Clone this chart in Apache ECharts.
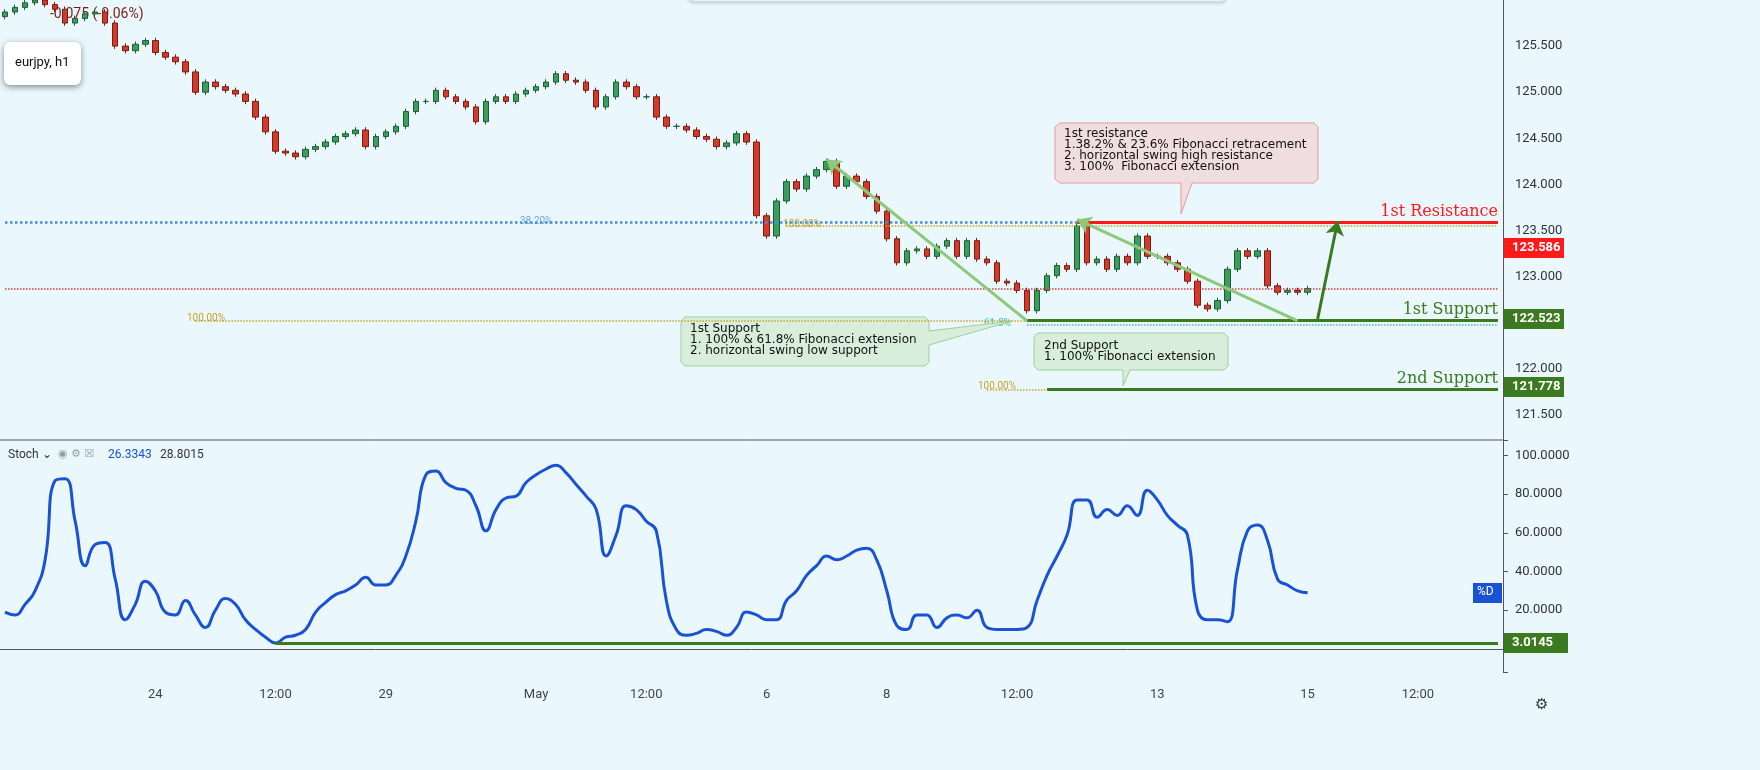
<!DOCTYPE html>
<html>
<head>
<meta charset="utf-8">
<script src="https://cdn.jsdelivr.net/npm/echarts@6/dist/echarts.min.js"></script>
<style>
  html, body {margin: 0; padding: 0; background: #eaf8fe;}
  #chart {width: 1760px; height: 770px;}
</style>
</head>
<body>
<div id="chart"></div>
<script>
// hourly-ish closes (2h per slot), eurjpy
const closes = [
  125.87, 125.92, 125.97, 126.0, 125.95, 125.9, 125.75, 125.8, 125.85, 125.87,
  125.75, 125.5, 125.45, 125.52, 125.56, 125.43, 125.38, 125.33, 125.22, 125.0,
  125.11, 125.06, 125.02, 124.98, 124.9, 124.73, 124.57, 124.36, 124.34, 124.3,
  124.38, 124.41, 124.46, 124.52, 124.55, 124.59, 124.41, 124.52, 124.57, 124.63,
  124.79, 124.9, 124.9, 125.02, 124.95, 124.9, 124.84, 124.68, 124.9, 124.95,
  124.9, 124.98, 125.02, 125.06, 125.11, 125.2, 125.13, 125.11, 125.02, 124.84,
  124.95, 125.11, 125.06, 124.95, 124.95, 124.73, 124.63, 124.63, 124.59, 124.52,
  124.49, 124.41, 124.45, 124.55, 124.46, 123.66, 123.44, 123.82, 124.03, 123.95,
  124.09, 124.16, 124.25, 123.98, 124.09, 124.03, 123.87, 123.71, 123.41, 123.15,
  123.28, 123.3, 123.22, 123.33, 123.39, 123.22, 123.39, 123.19, 123.15, 122.95,
  122.93, 122.85, 122.63, 122.85, 123.01, 123.12, 123.08, 123.55, 123.15, 123.19,
  123.08, 123.22, 123.15, 123.44, 123.22, 123.22, 123.15, 123.08, 122.95, 122.69,
  122.65, 122.74, 123.08, 123.28, 123.22, 123.28, 122.9, 122.83, 122.85, 122.83,
  122.87
];
const firstOpen = 125.82;

const stoch = [
  19, 17.5, 23, 30, 46, 87, 88, 66, 43, 54,
  55, 36, 15, 23, 35, 30, 19, 17.5, 25, 17.5,
  11, 20, 26, 23, 15, 10, 6, 3, 6, 7,
  10, 19, 24, 28, 30, 33, 37, 33, 33, 38,
  48, 66, 90, 92, 86, 83, 82, 74, 61, 72,
  78, 79, 86, 90, 93, 95, 91, 85, 79, 72,
  48, 59, 74, 72, 66, 61, 25, 10, 7, 8,
  10, 9, 7, 11, 19, 17.5, 15, 15, 25, 30,
  38, 43, 48, 46, 48, 51, 52, 46, 30, 12,
  10, 17.5, 17.5, 11, 16, 17.5, 16, 20, 11, 10,
  10, 10, 11, 25, 38, 48, 59, 77, 77, 68,
  72, 69, 74, 69, 82, 77, 69, 64, 59, 20,
  15, 15, 14, 41, 61, 64, 56, 36, 33, 30,
  29
];

const slotCount = 150;
const tickIdx = [15, 27, 38, 53, 64, 76, 88, 101, 115, 130, 141];
const tickLabels = ['24', '12:00', '29', 'May', '12:00', '6', '8', '12:00', '13', '15', '12:00'];

const resistance = 123.586;
const support1 = 122.523;
const support2 = 121.778;
const stochLow = 3.0145;

const categories = [];
for (let i = 0; i < slotCount; i++) {
  const k = tickIdx.indexOf(i);
  categories.push(k >= 0 ? tickLabels[k] : '');
}

const candles = closes.map((c, i) => {
  const o = i === 0 ? firstOpen : closes[i - 1];
  return [o, c, Math.min(o, c) - 0.03, Math.max(o, c) + 0.03];
});

const chart = echarts.init(document.getElementById('chart'));

const dot = (color) => ({color: color, type: 'dotted', width: 1.5});

const option = {
  backgroundColor: '#eaf8fe',
  animation: false,
  grid: [
    {left: 0, right: 257, top: -2, height: 463},
    {left: 0, right: 257, top: 440, height: 232}
  ],
  xAxis: [
    {type: 'category', data: categories, gridIndex: 0, axisLine: {show: false},
      axisTick: {show: false}, axisLabel: {show: false}, splitLine: {show: false}},
    {type: 'category', data: categories, gridIndex: 1,
      axisLine: {lineStyle: {color: '#555'}}, axisTick: {show: false},
      axisLabel: {interval: 0, color: '#444', fontSize: 13, margin: 16, fontFamily: 'Roboto'},
      splitLine: {show: false}}
  ],
  yAxis: [
    {type: 'value', gridIndex: 0, position: 'right', min: 121.0, max: 126.0, interval: 0.5,
      axisLine: {show: false}, axisTick: {show: false},
      axisLabel: {color: '#333', fontSize: 13, fontFamily: 'Roboto', margin: 12,
        formatter: v => (v > 121.2 && v < 125.9) ? v.toFixed(3) : ''},
      splitLine: {show: false}},
    {type: 'value', gridIndex: 1, position: 'right', min: -12, max: 108,
      axisLine: {show: true, lineStyle: {color: '#555'}}, axisTick: {show: true, length: 5},
      axisLabel: {color: '#333', fontSize: 13, fontFamily: 'Roboto', margin: 12,
        formatter: v => (v >= 20 && v <= 100 && v % 20 === 0) ? v.toFixed(4) : ''},
      splitLine: {show: false}}
  ],
  series: [
    {
      type: 'candlestick', xAxisIndex: 0, yAxisIndex: 0, data: candles, barWidth: 6,
      itemStyle: {color: '#3c9d5d', color0: '#d23b2c', borderColor: '#1f5c33', borderColor0: '#7a1c12'},
      markLine: {
        silent: true, symbol: 'none', label: {show: false},
        data: [
          [{coord: [0, 122.87], lineStyle: dot('#e53935')}, {coord: [149, 122.87]}],
          [{coord: [0, resistance], lineStyle: {color: '#4a90d9', type: 'dotted', width: 2.5}}, {coord: [107, resistance]}],
          [{coord: [78, 123.55], lineStyle: dot('#c9a227')}, {coord: [149, 123.55]}],
          [{coord: [19, support1], lineStyle: dot('#c9a227')}, {coord: [102, support1]}],
          [{coord: [102, 122.48], lineStyle: dot('#3fc6b0')}, {coord: [149, 122.48]}],
          [{coord: [98, support2], lineStyle: dot('#c9a227')}, {coord: [104, support2]}],
          [{coord: [107, resistance], lineStyle: {color: '#ff1a1a', width: 3, type: 'solid'}}, {coord: [149, resistance]}],
          [{coord: [102, support1], lineStyle: {color: '#3b7a1e', width: 3, type: 'solid'}}, {coord: [149, support1]}],
          [{coord: [104, support2], lineStyle: {color: '#3b7a1e', width: 3, type: 'solid'}}, {coord: [149, support2]}],
          [{coord: [102, 122.52], symbol: 'none', lineStyle: {color: '#8cc97a', width: 3, type: 'solid'}},
            {coord: [82, 124.27], symbol: 'arrow', symbolSize: 14}],
          [{coord: [129, 122.52], symbol: 'none', lineStyle: {color: '#8cc97a', width: 3, type: 'solid'}},
            {coord: [107, 123.62], symbol: 'arrow', symbolSize: 14}],
          [{coord: [131, 122.54], symbol: 'none', lineStyle: {color: '#3b7a1e', width: 3, type: 'solid'}},
            {coord: [133, 123.6], symbol: 'arrow', symbolSize: 14}]
        ]
      }
    },
    {
      type: 'line', xAxisIndex: 1, yAxisIndex: 1, data: stoch, showSymbol: false, smooth: true,
      lineStyle: {color: '#1a52d6', width: 3},
      markLine: {
        silent: true, symbol: 'none', label: {show: false},
        data: [[{coord: [27, stochLow], lineStyle: {color: '#3b7a1e', width: 3, type: 'solid'}}, {coord: [149, stochLow]}]]
      }
    }
  ],
  graphic: [
    {type: 'line', shape: {x1: 0, y1: 440, x2: 1503, y2: 440}, style: {stroke: '#555', lineWidth: 1}},
    {type: 'line', shape: {x1: 1503.5, y1: 0, x2: 1503.5, y2: 440}, style: {stroke: '#555', lineWidth: 1}},
    {type: 'rect', shape: {x: 690, y: -10, width: 535, height: 12, r: 3}, style: {fill: '#eaf8fe', stroke: '#c8d0d4', shadowBlur: 4, shadowColor: 'rgba(0,0,0,0.2)'}},
    {type: 'text', left: 50, top: 7, style: {text: '-0.075 (-0.06%)', fill: '#7a1c12', font: '14px Roboto'}},
    {type: 'rect', shape: {x: 4, y: 42, width: 77, height: 43, r: 6}, style: {fill: '#fff', shadowBlur: 6, shadowOffsetY: 2, shadowColor: 'rgba(0,0,0,0.45)'}},
    {type: 'text', left: 15, top: 56, style: {text: 'eurjpy, h1', fill: '#111', font: '13px Roboto'}},
    {type: 'text', left: 520, top: 216, style: {text: '38.20%', fill: '#6fa8e0', font: '10px Roboto'}},
    {type: 'text', left: 783, top: 219, style: {text: '100.00%', fill: '#c9a227', font: '10px Roboto'}},
    {type: 'text', left: 187, top: 313, style: {text: '100.00%', fill: '#c9a227', font: '10px Roboto'}},
    {type: 'text', left: 984, top: 318, style: {text: '61.8%', fill: '#3fc6b0', font: '10px Roboto'}},
    {type: 'text', left: 978, top: 381, style: {text: '100.00%', fill: '#c9a227', font: '10px Roboto'}},
    // 1st resistance note
    {type: 'polygon', shape: {points: [[1060, 123], [1314, 123], [1318, 127], [1318, 179], [1314, 183], [1192, 183], [1181, 214], [1181, 183], [1060, 183], [1055, 179], [1055, 127]]},
      style: {fill: '#f0dde0', stroke: '#e59a9a'}},
    {type: 'text', left: 1064, top: 128, style: {text: '1st resistance\n1.38.2% & 23.6% Fibonacci retracement\n2. horizontal swing high resistance\n3. 100%  Fibonacci extension', fill: '#111', font: '12px "DejaVu Sans"', lineHeight: 11}},
    // 1st support note
    {type: 'polygon', shape: {points: [[685, 317], [925, 317], [929, 321], [929, 331], [1012, 321], [929, 345], [929, 362], [925, 366], [685, 366], [681, 362], [681, 321]]},
      style: {fill: '#d8eedb', stroke: '#9ccf9c'}},
    {type: 'text', left: 690, top: 323, style: {text: '1st Support\n1. 100% & 61.8% Fibonacci extension\n2. horizontal swing low support', fill: '#111', font: '12px "DejaVu Sans"', lineHeight: 11}},
    // 2nd support note
    {type: 'polygon', shape: {points: [[1038, 333], [1224, 333], [1228, 337], [1228, 366], [1224, 370], [1130, 370], [1123, 386], [1123, 370], [1038, 370], [1034, 366], [1034, 337]]},
      style: {fill: '#d8eedb', stroke: '#9ccf9c'}},
    {type: 'text', left: 1044, top: 340, style: {text: '2nd Support\n1. 100% Fibonacci extension', fill: '#111', font: '12px "DejaVu Sans"', lineHeight: 11}},
    {type: 'text', right: 262, top: 204, style: {text: '1st Resistance', fill: '#ff1a1a', font: '16px "DejaVu Serif"'}},
    {type: 'text', right: 262, top: 302, style: {text: '1st Support', fill: '#3b7a1e', font: '16px "DejaVu Serif"'}},
    {type: 'text', right: 262, top: 371, style: {text: '2nd Support', fill: '#3b7a1e', font: '16px "DejaVu Serif"'}},
    {type: 'rect', z: 100, shape: {x: 1504, y: 238, width: 60, height: 20}, style: {fill: '#ff1a1a'}},
    {type: 'text', z: 101, left: 1512, top: 241, style: {text: '123.586', fill: '#fff', font: 'bold 13px Roboto'}},
    {type: 'rect', z: 100, shape: {x: 1504, y: 309, width: 60, height: 20}, style: {fill: '#3b7a1e'}},
    {type: 'text', z: 101, left: 1512, top: 312, style: {text: '122.523', fill: '#fff', font: 'bold 13px Roboto'}},
    {type: 'rect', z: 100, shape: {x: 1504, y: 377, width: 60, height: 20}, style: {fill: '#3b7a1e'}},
    {type: 'text', z: 101, left: 1512, top: 380, style: {text: '121.778', fill: '#fff', font: 'bold 13px Roboto'}},
    {type: 'rect', z: 100, shape: {x: 1504, y: 633, width: 64, height: 20}, style: {fill: '#3b7a1e'}},
    {type: 'text', z: 101, left: 1512, top: 636, style: {text: '3.0145', fill: '#fff', font: 'bold 13px Roboto'}},
    {type: 'rect', z: 100, shape: {x: 1473, y: 583, width: 29, height: 20}, style: {fill: '#1a52d6'}},
    {type: 'text', z: 101, left: 1477, top: 586, style: {text: '%D', fill: '#fff', font: '12px Roboto'}},
    {type: 'text', left: 8, top: 449, style: {text: 'Stoch ⌄', fill: '#333', font: '12px Roboto'}},
    {type: 'text', left: 58, top: 449, style: {text: '◉ ⚙ ☒', fill: '#999', font: '11px "DejaVu Sans"'}},
    {type: 'text', left: 108, top: 449, style: {text: '26.3343', fill: '#1a52d6', font: '12px Roboto'}},
    {type: 'text', left: 160, top: 449, style: {text: '28.8015', fill: '#333', font: '12px Roboto'}},
    {type: 'text', left: 1535, top: 698, style: {text: '⚙', fill: '#333', font: '15px "DejaVu Sans"'}}
  ]
};

chart.setOption(option);
</script>
</body>
</html>
